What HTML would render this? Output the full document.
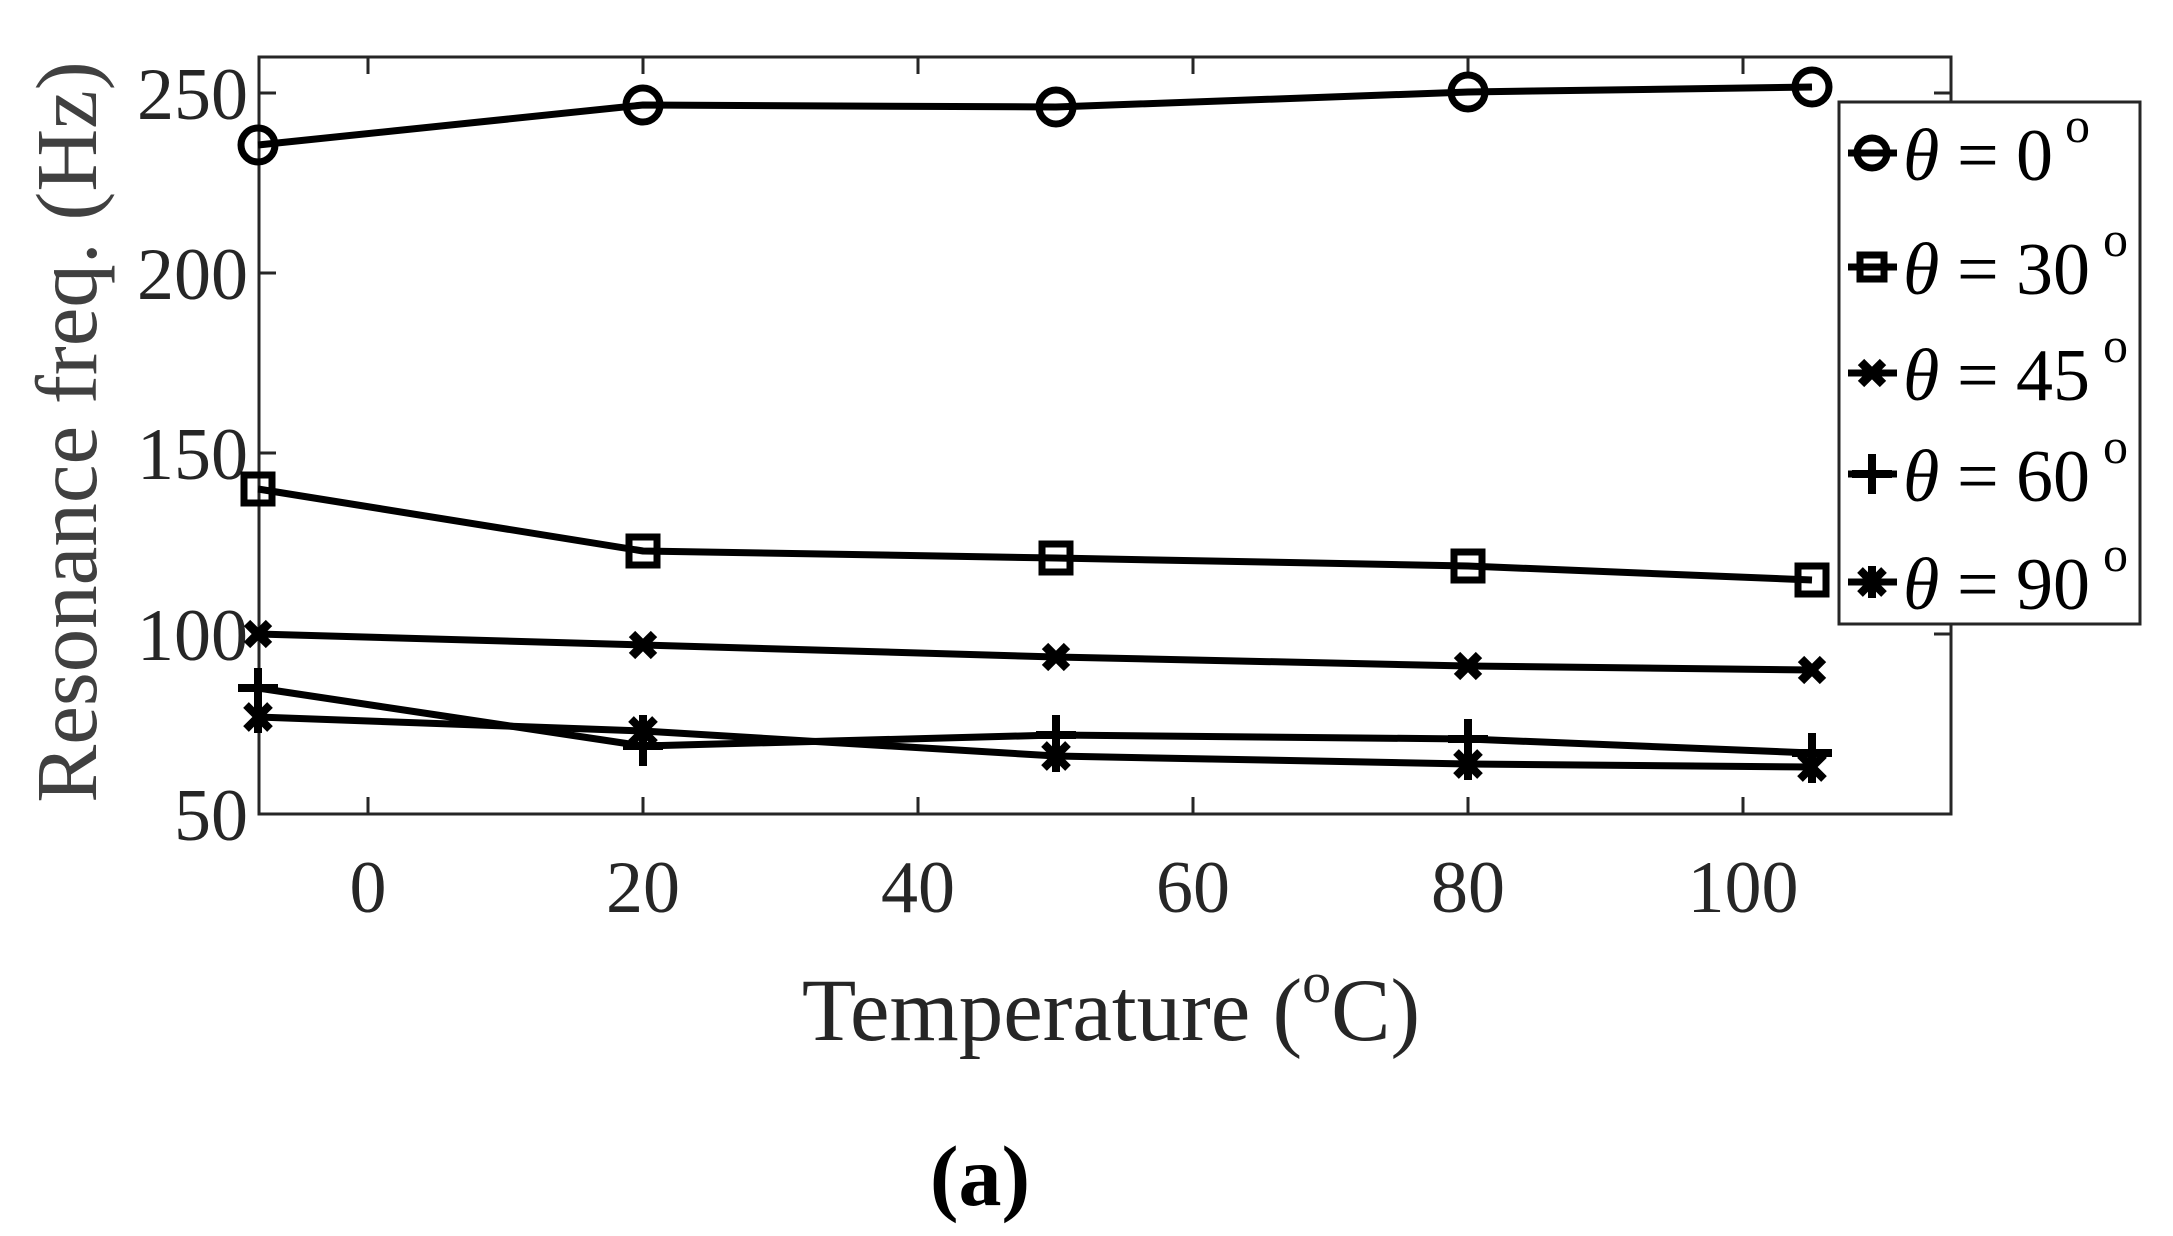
<!DOCTYPE html>
<html><head><meta charset="utf-8"><style>
html,body{margin:0;padding:0;background:#fff;}
svg{display:block;}
text{font-family:"Liberation Serif",serif;}
</style></head><body>
<svg width="2173" height="1236" viewBox="0 0 2173 1236" xmlns="http://www.w3.org/2000/svg">
<rect width="2173" height="1236" fill="#fff"/>
<rect x="259" y="57" width="1692" height="757" fill="none" stroke="#262626" stroke-width="3"/>
<g stroke="#262626" stroke-width="3">
<line x1="368" y1="814" x2="368" y2="797"/><line x1="643" y1="814" x2="643" y2="797"/><line x1="918" y1="814" x2="918" y2="797"/><line x1="1193" y1="814" x2="1193" y2="797"/><line x1="1468" y1="814" x2="1468" y2="797"/><line x1="1743" y1="814" x2="1743" y2="797"/>
<line x1="368" y1="57" x2="368" y2="74"/><line x1="643" y1="57" x2="643" y2="74"/><line x1="918" y1="57" x2="918" y2="74"/><line x1="1193" y1="57" x2="1193" y2="74"/><line x1="1468" y1="57" x2="1468" y2="74"/><line x1="1743" y1="57" x2="1743" y2="74"/>
<line x1="259" y1="814" x2="276" y2="814"/><line x1="259" y1="634" x2="276" y2="634"/><line x1="259" y1="453" x2="276" y2="453"/><line x1="259" y1="273" x2="276" y2="273"/><line x1="259" y1="93" x2="276" y2="93"/>
<line x1="1951" y1="634" x2="1934" y2="634"/><line x1="1951" y1="453" x2="1934" y2="453"/><line x1="1951" y1="273" x2="1934" y2="273"/><line x1="1951" y1="93" x2="1934" y2="93"/>
</g>
<g font-size="74" fill="#262626" text-anchor="end">
<text x="248" y="840">50</text><text x="248" y="660">100</text><text x="248" y="479">150</text><text x="248" y="299">200</text><text x="248" y="119">250</text>
</g>
<g font-size="74" fill="#262626" text-anchor="middle">
<text x="368" y="912">0</text><text x="643" y="912">20</text><text x="918" y="912">40</text><text x="1193" y="912">60</text><text x="1468" y="912">80</text><text x="1743" y="912">100</text>
</g>
<text x="1111" y="1040" font-size="89" fill="#262626" text-anchor="middle">Temperature (<tspan font-size="58" dy="-38">o</tspan><tspan dy="38">C)</tspan></text>
<text transform="translate(96,432) rotate(-90)" font-size="87" fill="#404040" text-anchor="middle">Resonance freq. (Hz)</text>
<text x="980" y="1205" font-size="86" font-weight="bold" fill="#000" text-anchor="middle">(a)</text>

<g fill="none" stroke="#000" stroke-width="7" stroke-linejoin="round">
<polyline points="258,145 643,105 1056,107 1468,92 1812,87"/>
<polyline points="258,489 643,551 1056,558 1468,566 1812,580"/>
<polyline points="258,634 643,645 1056,657 1468,666 1812,670"/>
<polyline points="258,688 643,746 1056,735 1468,739 1812,753"/>
<polyline points="258,717 643,731 1056,756 1468,764 1812,767"/>
</g>
<g fill="none" stroke="#000" stroke-width="7">
<circle cx="258" cy="145" r="17"/><circle cx="643" cy="105" r="17"/><circle cx="1056" cy="107" r="17"/><circle cx="1468" cy="92" r="17"/><circle cx="1812" cy="87" r="17"/>
<rect x="244" y="475" width="28" height="28"/><rect x="629" y="537" width="28" height="28"/><rect x="1042" y="544" width="28" height="28"/><rect x="1454" y="552" width="28" height="28"/><rect x="1798" y="566" width="28" height="28"/>
</g>
<defs>
<path id="x" d="M-11,-11 L11,11 M-11,11 L11,-11" stroke="#000" stroke-width="9" fill="none"/>
<path id="p" d="M-20,0 L20,0 M0,-20 L0,20" stroke="#000" stroke-width="8" fill="none"/>
<path id="s" d="M-12,-12 L12,12 M-12,12 L12,-12 M0,-16 L0,16" stroke="#000" stroke-width="8" fill="none"/>
</defs>
<use href="#x" x="258" y="634"/><use href="#x" x="643" y="645"/><use href="#x" x="1056" y="657"/><use href="#x" x="1468" y="666"/><use href="#x" x="1812" y="670"/>
<use href="#p" x="258" y="688"/><use href="#p" x="643" y="746"/><use href="#p" x="1056" y="735"/><use href="#p" x="1468" y="739"/><use href="#p" x="1812" y="753"/>
<use href="#s" x="258" y="717"/><use href="#s" x="643" y="731"/><use href="#s" x="1056" y="756"/><use href="#s" x="1468" y="764"/><use href="#s" x="1812" y="767"/>

<rect x="1839" y="102" width="301" height="522" fill="#fff" stroke="#262626" stroke-width="3"/>
<g stroke="#000" stroke-width="7">
<line x1="1848" y1="153" x2="1897" y2="153"/><line x1="1848" y1="267" x2="1897" y2="267"/><line x1="1848" y1="373" x2="1897" y2="373"/><line x1="1848" y1="474" x2="1897" y2="474"/><line x1="1848" y1="582" x2="1897" y2="582"/>
</g>
<circle cx="1872" cy="153" r="15" fill="none" stroke="#000" stroke-width="7"/>
<rect x="1860" y="255" width="24" height="24" fill="none" stroke="#000" stroke-width="7"/>
<use href="#x" x="1872" y="373"/><use href="#p" x="1872" y="474"/><use href="#s" x="1872" y="582"/>
<g fill="#000" font-size="74">
<g font-style="italic"><text x="1903" y="180">θ</text><text x="1903" y="294">θ</text><text x="1903" y="400">θ</text><text x="1903" y="501">θ</text><text x="1903" y="609">θ</text></g>
<text x="1957" y="180">=</text><text x="1957" y="294">=</text><text x="1957" y="400">=</text><text x="1957" y="501">=</text><text x="1957" y="609">=</text>
<text x="2016" y="180">0</text><text x="2016" y="294">30</text><text x="2016" y="400">45</text><text x="2016" y="501">60</text><text x="2016" y="609">90</text>
<g font-size="50"><text x="2065" y="142">o</text><text x="2103" y="256">o</text><text x="2103" y="362">o</text><text x="2103" y="463">o</text><text x="2103" y="571">o</text></g>
</g>
</svg>
</body></html>
